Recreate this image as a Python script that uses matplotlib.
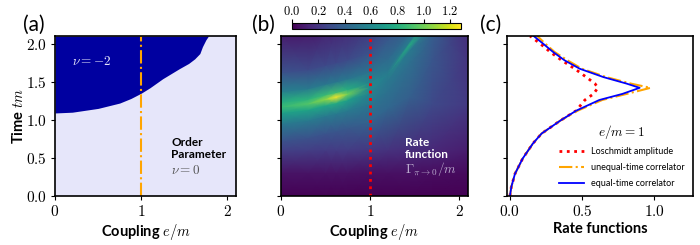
import matplotlib
matplotlib.use("Agg")
import matplotlib.pyplot as plt
import matplotlib.ticker as mticker
import numpy as np

plt.rcParams['mathtext.fontset'] = 'cm'
plt.rcParams['font.family'] = ['Lato', 'DejaVu Sans']

# (a) phase boundary: nu=-2 above, nu=0 below
e_bound = [0.0, 0.2, 0.5, 0.75, 0.88, 1.0, 1.1, 1.25, 1.44, 1.55, 1.62, 1.68, 1.71, 1.75, 1.78]
t_bound = [1.09, 1.10, 1.15, 1.22, 1.28, 1.35, 1.42, 1.54, 1.67, 1.74, 1.80, 1.87, 1.96, 2.05, 2.1]

# (b) rate function, sampled along columns of fixed e; each column has its
# own t samples so the row index 6 follows the ridge
e_cols = [0.0, 0.3, 0.5, 0.62, 0.75, 1.0, 1.2, 1.45, 1.7, 2.1]
t_cols = [
    [0.0, 0.3, 0.6, 0.72, 0.95, 1.09, 1.17, 1.23, 1.37, 1.62, 2.12],
    [0.0, 0.3, 0.6, 0.76, 0.99, 1.13, 1.21, 1.27, 1.41, 1.66, 2.16],
    [0.0, 0.3, 0.6, 0.82, 1.05, 1.19, 1.27, 1.33, 1.47, 1.72, 2.22],
    [0.0, 0.3, 0.6, 0.85, 1.08, 1.22, 1.30, 1.36, 1.50, 1.75, 2.25],
    [0.0, 0.3, 0.6, 0.89, 1.12, 1.26, 1.34, 1.40, 1.54, 1.79, 2.29],
    [0.0, 0.3, 0.6, 0.98, 1.21, 1.35, 1.43, 1.49, 1.63, 1.88, 2.38],
    [0.0, 0.3, 0.6, 1.15, 1.38, 1.52, 1.60, 1.66, 1.80, 2.05, 2.55],
    [0.0, 0.3, 0.6, 1.30, 1.76, 1.92, 1.99, 2.04, 2.18, 2.43, 2.93],
    [0.0, 0.3, 0.6, 1.20, 1.80, 2.10, 2.35, 2.45, 2.60, 2.80, 3.00],
    [0.0, 0.3, 0.6, 1.20, 1.80, 2.30, 2.90, 3.00, 3.10, 3.20, 3.30],
]
rate_cols = [
    [0.0, 0.06, 0.24, 0.32, 0.52, 0.72, 0.86, 0.80, 0.55, 0.32, 0.09],
    [0.0, 0.06, 0.23, 0.32, 0.52, 0.74, 0.93, 0.82, 0.52, 0.29, 0.08],
    [0.0, 0.06, 0.22, 0.33, 0.52, 0.76, 1.06, 0.86, 0.50, 0.28, 0.10],
    [0.0, 0.06, 0.22, 0.34, 0.52, 0.78, 1.28, 0.88, 0.50, 0.28, 0.11],
    [0.0, 0.06, 0.22, 0.35, 0.52, 0.72, 1.00, 0.80, 0.50, 0.29, 0.12],
    [0.0, 0.05, 0.20, 0.40, 0.50, 0.56, 0.60, 0.57, 0.48, 0.32, 0.15],
    [0.0, 0.05, 0.18, 0.42, 0.48, 0.51, 0.53, 0.50, 0.44, 0.35, 0.20],
    [0.0, 0.05, 0.16, 0.38, 0.46, 0.52, 0.78, 0.52, 0.40, 0.30, 0.20],
    [0.0, 0.04, 0.14, 0.28, 0.34, 0.37, 0.38, 0.36, 0.34, 0.30, 0.26],
    [0.0, 0.03, 0.10, 0.21, 0.19, 0.15, 0.12, 0.12, 0.12, 0.12, 0.12],
]

# (c) rate functions at e/m = 1
t_c = [0.0, 0.12, 0.29, 0.49, 0.69, 0.82, 0.99, 1.12, 1.26, 1.34, 1.42,
       1.475, 1.56, 1.67, 1.78, 1.89, 2.0, 2.1]
losch = [0.0, 0.01, 0.035, 0.088, 0.16, 0.22, 0.35, 0.46, 0.52, 0.58, 0.61,
         0.59, 0.53, 0.45, 0.36, 0.28, 0.21, 0.14]
unequal = [0.0, 0.01, 0.035, 0.088, 0.16, 0.22, 0.35, 0.47, 0.64, 0.81, 0.975,
           0.84, 0.67, 0.50, 0.40, 0.31, 0.245, 0.19]
equal = [0.0, 0.01, 0.035, 0.088, 0.16, 0.22, 0.35, 0.46, 0.62, 0.78, 0.90,
         0.81, 0.65, 0.485, 0.38, 0.30, 0.23, 0.165]

mfmt = mticker.FuncFormatter(lambda v, p: r'$%g$' % v)
mfmt1 = mticker.FuncFormatter(lambda v, p: r'$%.1f$' % v)

fig = plt.figure(figsize=(7, 2.45), dpi=100)
ax_a = fig.add_axes([0.0786, 0.2, 0.2586, 0.653])
ax_b = fig.add_axes([0.4014, 0.2, 0.267, 0.653])
ax_c = fig.add_axes([0.7243, 0.2, 0.2657, 0.653])
cax = fig.add_axes([0.417, 0.8816, 0.241, 0.0245])

lab_kw = dict(fontweight='bold', fontsize=10.5, labelpad=2)

# panel (a)
ax_a.set_facecolor('#e6e6fa')
ax_a.fill_between(e_bound, t_bound, 2.1, color='#0000a0', lw=0)
ax_a.axvline(1.0, color='orange', ls='-.', lw=1.5)
ax_a.text(0.2, 1.72, r'$\nu=-2$', color='#e6e6fa', fontsize=9.5)
ax_a.text(1.35, 0.47, 'Order\nParameter', fontweight='bold', fontsize=8.5,
          linespacing=1.15, va='bottom')
ax_a.text(1.35, 0.35, r'$\nu=0$', color='#555555', fontsize=9.5, va='center')
ax_a.set_xlim(0, 2.1)
ax_a.set_ylim(0, 2.1)
ax_a.set_xticks([0, 1, 2])
ax_a.set_yticks([0, 0.5, 1.0, 1.5, 2.0])
ax_a.xaxis.set_major_formatter(mfmt)
ax_a.yaxis.set_major_formatter(mfmt1)
ax_a.set_xlabel(r'Coupling $e/m$', **lab_kw)
ax_a.set_ylabel(r'Time $tm$', fontweight='bold', fontsize=10.5, labelpad=0)

# panel (b)
E = np.array([[e] * len(t_cols[0]) for e in e_cols]).T
T = np.array(t_cols).T
Z = np.array(rate_cols).T
mesh = ax_b.pcolormesh(E, T, Z, shading='gouraud', cmap='viridis',
                       vmin=0, vmax=1.28, rasterized=True)
ax_b.axvline(1.0, color='red', ls=':', lw=2)
ax_b.text(1.39, 0.47, 'Rate\nfunction', color='white', fontweight='bold',
          fontsize=8.5, linespacing=1.15, va='bottom')
ax_b.text(1.39, 0.35, r'$\Gamma_{\pi\to 0}/m$', color='#b9a9cc', fontsize=9.5,
          va='center')
ax_b.set_xlim(0, 2.1)
ax_b.set_ylim(0, 2.1)
ax_b.set_xticks([0, 1, 2])
ax_b.set_yticks([0, 0.5, 1.0, 1.5, 2.0])
ax_b.set_yticklabels([])
ax_b.xaxis.set_major_formatter(mfmt)
ax_b.set_xlabel(r'Coupling $e/m$', **lab_kw)

cb = fig.colorbar(mesh, cax=cax, orientation='horizontal')
cb.set_ticks([0, 0.2, 0.4, 0.6, 0.8, 1.0, 1.2])
cax.xaxis.set_ticks_position('top')
cax.xaxis.set_major_formatter(mfmt1)
cax.tick_params(labelsize=9, length=3, pad=1)

# panel (c)
ax_c.plot(losch, t_c, color='red', ls=':', lw=2, label='Loschmidt amplitude')
ax_c.plot(unequal, t_c, color='orange', ls='-.', lw=1.5, label='unequal-time correlator')
ax_c.plot(equal, t_c, color='blue', ls='-', lw=1.3, label='equal-time correlator')
ax_c.set_xlim(-0.02, 1.27)
ax_c.set_ylim(0, 2.1)
ax_c.set_xticks([0, 0.5, 1.0])
ax_c.set_yticks([0, 0.5, 1.0, 1.5, 2.0])
ax_c.set_yticklabels([])
ax_c.xaxis.set_major_formatter(mfmt1)
ax_c.set_xlabel('Rate functions', **lab_kw)
leg = ax_c.legend(loc='lower right', title=r'$e/m=1$', fontsize=6.5,
                  title_fontsize=9.5, frameon=False, handlelength=2.8,
                  bbox_to_anchor=(1.0, 0.0), labelspacing=0.75)

for ax in (ax_a, ax_b, ax_c):
    ax.tick_params(labelsize=11, length=3, pad=3)
    for s in ax.spines.values():
        s.set_linewidth(1.2)

fig.text(0.033, 0.875, '(a)', fontsize=15)
fig.text(0.36, 0.875, '(b)', fontsize=15)
fig.text(0.686, 0.875, '(c)', fontsize=15)

fig.savefig('out.png', dpi=100)
